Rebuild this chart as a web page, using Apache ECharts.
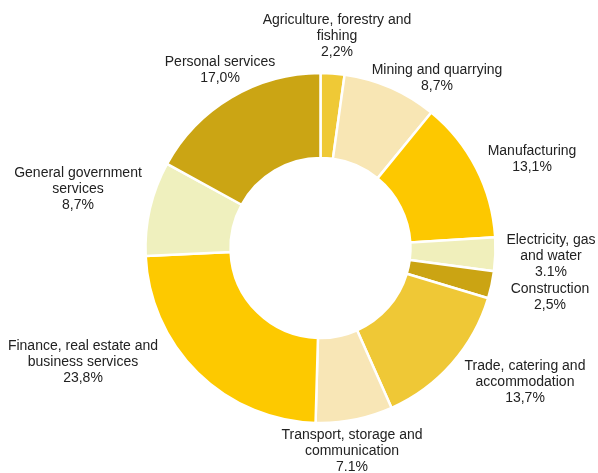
<!DOCTYPE html>
<html>
<head>
<meta charset="utf-8">
<script src="https://cdn.jsdelivr.net/npm/echarts@6/dist/echarts.min.js"></script>
<style>
  html, body { margin: 0; padding: 0; background: #fff; }
  #chart { width: 598px; height: 473px; }
</style>
</head>
<body>
<div id="chart"></div>
<script>
// sectors, clockwise from 12 o'clock
const sectors = [
  'Agriculture, forestry and\nfishing',
  'Mining and quarrying',
  'Manufacturing',
  'Electricity, gas\nand water',
  'Construction',
  'Trade, catering and\naccommodation',
  'Transport, storage and\ncommunication',
  'Finance, real estate and\nbusiness services',
  'General government\nservices',
  'Personal services'
];
const shares = [2.2, 8.7, 13.1, 3.1, 2.5, 13.7, 7.1, 23.8, 8.7, 17.0];
// the printed labels (mixed decimal marks as in the source)
const shareText = ['2,2%', '8,7%', '13,1%', '3.1%', '2,5%', '13,7%', '7.1%', '23,8%', '8,7%', '17,0%'];

// colours and label anchors
const colors = ['#efc936', '#f8e6b4', '#fdc800', '#f0efbb', '#cba413',
                '#efc836', '#f8e6b6', '#fdc900', '#eff0be', '#cba514'];
const labelPos = [[337, 36], [437, 78], [532, 159], [551, 256], [550, 297],
                  [525, 382], [352, 451], [83, 362], [78, 189], [220, 70]];

const chart = echarts.init(document.getElementById('chart'));

chart.setOption({
  animation: false,
  series: [{
    type: 'pie',
    center: [320.5, 248],
    radius: [90, 175],
    startAngle: 90,
    clockwise: true,
    avoidLabelOverlap: false,
    itemStyle: { borderColor: '#fff', borderWidth: 2.5 },
    label: {
      show: true,
      position: 'outside',
      color: '#222',
      fontFamily: '"Liberation Sans", Arial, sans-serif',
      fontSize: 14,
      lineHeight: 16,
      align: 'center',
      formatter: p => p.name + '\n' + shareText[p.dataIndex]
    },
    labelLine: { show: false },
    labelLayout: p => ({
      x: labelPos[p.dataIndex][0],
      y: labelPos[p.dataIndex][1],
      align: 'center',
      verticalAlign: 'middle'
    }),
    emphasis: { disabled: true },
    data: sectors.map((n, i) => ({ name: n, value: shares[i], itemStyle: { color: colors[i] } }))
  }]
});
</script>
</body>
</html>
